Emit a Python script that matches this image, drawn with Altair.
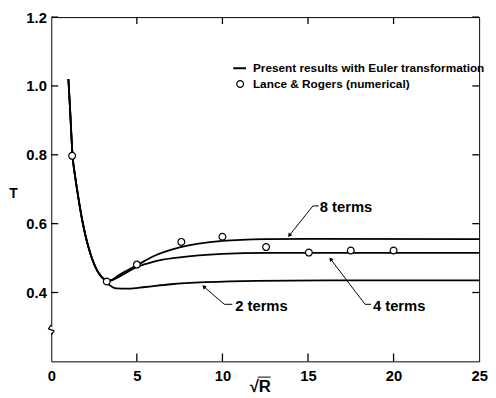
import altair as alt
import pandas as pd

# ---- data ----
x_common = [1.0, 1.1, 1.24, 1.4, 1.6, 1.8, 2.0, 2.2, 2.4, 2.7, 3.0]
T_common = [1.02, 0.93, 0.80, 0.735, 0.67, 0.612, 0.565, 0.527, 0.496, 0.462, 0.442]

x_2 = x_common + [3.4, 3.8, 4.5, 5.5, 7.0, 9.0, 12.0, 16.0, 25.0]
T_2 = T_common + [0.422, 0.412, 0.411, 0.416, 0.424, 0.430, 0.434, 0.435, 0.435]

x_4 = x_common + [3.4, 4.0, 5.0, 6.0, 7.5, 10.0, 12.5, 15.0, 25.0]
T_4 = T_common + [0.434, 0.447, 0.474, 0.490, 0.502, 0.512, 0.515, 0.515, 0.515]

x_8 = x_common + [3.4, 4.0, 5.0, 6.0, 7.5, 10.0, 12.5, 15.0, 25.0]
T_8 = T_common + [0.435, 0.452, 0.479, 0.506, 0.531, 0.550, 0.555, 0.556, 0.555]

lr_x = [1.22, 3.24, 5.0, 7.6, 10.0, 12.55, 15.05, 17.5, 20.0]
lr_T = [0.797, 0.432, 0.481, 0.547, 0.562, 0.532, 0.516, 0.522, 0.522]

x_ticks = [0, 5, 10, 15, 20, 25]
x_inner_ticks = [5, 10, 15, 20]
y_ticks = [0.4, 0.6, 0.8, 1.0, 1.2]

legend_labels = ["Present results with Euler transformation", "Lance & Rogers (numerical)"]
term_labels = ["8 terms", "2 terms", "4 terms"]

# ---- tables ----
curves = pd.concat([
    pd.DataFrame({"x": x_2, "T": T_2, "series": "2 terms"}),
    pd.DataFrame({"x": x_4, "T": T_4, "series": "4 terms"}),
    pd.DataFrame({"x": x_8, "T": T_8, "series": "8 terms"}),
])
pts = pd.DataFrame({"x": lr_x, "T": lr_T})
one = pd.DataFrame({"k": [0]})

FONT = "Liberation Sans"
W, H = 435, 350
X_DOM = [0, 25]
Y_DOM = [0.2, 1.2]

X = alt.X("x:Q", scale=alt.Scale(domain=X_DOM, nice=False),
          axis=alt.Axis(values=x_ticks, title="\u221aR", grid=False, domain=False,
                        ticks=False, tickSize=0, labelPadding=7, labelFont=FONT,
                        labelFontSize=15, labelFontWeight="bold", labelColor="black",
                        titleFont=FONT, titleFontSize=17, titleFontWeight="bold",
                        titleColor="black", titleX=212, titleY=26, titleBaseline="middle",
                        titleAlign="center", labelFlush=False))
Y = alt.Y("T:Q", scale=alt.Scale(domain=Y_DOM, nice=False, zero=False),
          axis=alt.Axis(values=y_ticks, format=".1f", title="T", grid=False, domain=False,
                        ticks=False, tickSize=0, labelPadding=5, labelFont=FONT,
                        labelFontSize=15, labelFontWeight="bold", labelColor="black",
                        titleFont=FONT, titleFontSize=14, titleFontWeight="bold",
                        titleColor="black", titleAngle=0, titleX=-39, titleY=179,
                        titleAlign="center", titleBaseline="middle"))

lines = alt.Chart(curves).mark_line(color="black", strokeWidth=1.8, interpolate="monotone").encode(
    x=X, y=Y, detail="series:N")

points = alt.Chart(pts).mark_point(shape="circle", filled=True, fill="white", stroke="black",
                                   strokeWidth=1.2, size=48, opacity=1).encode(x=X, y=Y)


def seg(x1, y1, x2, y2, width=1.0, color="black"):
    return alt.Chart(one).mark_rule(color=color, strokeWidth=width).encode(
        x=alt.value(x1), y=alt.value(y1), x2=alt.value(x2), y2=alt.value(y2))


# inward frame ticks, placed from the tick lists through the same linear mapping as the scales
def px(v):
    return (v - X_DOM[0]) / (X_DOM[1] - X_DOM[0]) * W


def py(v):
    return H - (v - Y_DOM[0]) / (Y_DOM[1] - Y_DOM[0]) * H


TL = 7
tick_layers = []
for v in y_ticks:
    tick_layers.append(seg(0, py(v), TL, py(v), 1.3))
    tick_layers.append(seg(W - TL, py(v), W, py(v), 1.3))
for v in x_inner_ticks:
    tick_layers.append(seg(px(v), H, px(v), H - TL - 1, 1.3))
    tick_layers.append(seg(px(v), 0, px(v), TL, 1.3))

# axis break on the y axis
brk = [seg(0, 315, 0, 321, 3, "white"),
       seg(0, 313, -3, 317, 1.2), seg(-3, 317, 3, 319, 1.2), seg(3, 319, 0, 323, 1.2)]

# overbar of the square-root sign in the x title
sqrt_bar = seg(210, H + 16, 223, H + 16, 1)

# legend
leg_line = seg(185, 52, 198, 52, 2)
leg_pt = alt.Chart(one).mark_point(shape="circle", filled=True, fill="white", stroke="black",
                                   strokeWidth=1.2, size=48, opacity=1).encode(
    x=alt.value(192), y=alt.value(68))
leg_t1 = alt.Chart(one).mark_text(text=legend_labels[0], align="left", baseline="middle",
                                  font=FONT, fontSize=12, fontWeight="bold", color="black").encode(
    x=alt.value(205), y=alt.value(52))
leg_t2 = alt.Chart(one).mark_text(text=legend_labels[1], align="left", baseline="middle",
                                  font=FONT, fontSize=12, fontWeight="bold", color="black").encode(
    x=alt.value(205), y=alt.value(68))


# term annotations
def annot(label, tip, corner, dash_end, text_x, text_y, angle):
    s = seg(corner[0], corner[1], tip[0], tip[1], 1)
    d = seg(corner[0], corner[1], dash_end, corner[1], 1)
    head = alt.Chart(one).mark_point(shape="triangle-up", filled=True, color="black", size=22,
                                     opacity=1, angle=angle).encode(
        x=alt.value(tip[0]), y=alt.value(tip[1]))
    txt = alt.Chart(one).mark_text(text=label, align="left", baseline="middle", font=FONT,
                                   fontSize=15, fontWeight="bold", color="black").encode(
        x=alt.value(text_x), y=alt.value(text_y))
    return [s, d, head, txt]


a8 = annot(term_labels[0], (242, 222), (266, 192), 272, 273, 193, 218)
a2 = annot(term_labels[1], (155, 274), (176, 292), 184, 187, 294, 311)
a4 = annot(term_labels[2], (284, 246), (319, 292), 325, 327, 294, 323)

chart = alt.layer(lines, points, *tick_layers, *brk, sqrt_bar,
                  leg_line, leg_pt, leg_t1, leg_t2, *a8, *a2, *a4).properties(
    width=W, height=H,
    background="white",
    autosize=alt.AutoSizeParams(type="none"),
    padding={"left": 44, "top": 6, "right": 9, "bottom": 34},
).configure_view(stroke="black", strokeWidth=1)

chart.save("out.html", embed_options={"renderer": "svg", "actions": False})
